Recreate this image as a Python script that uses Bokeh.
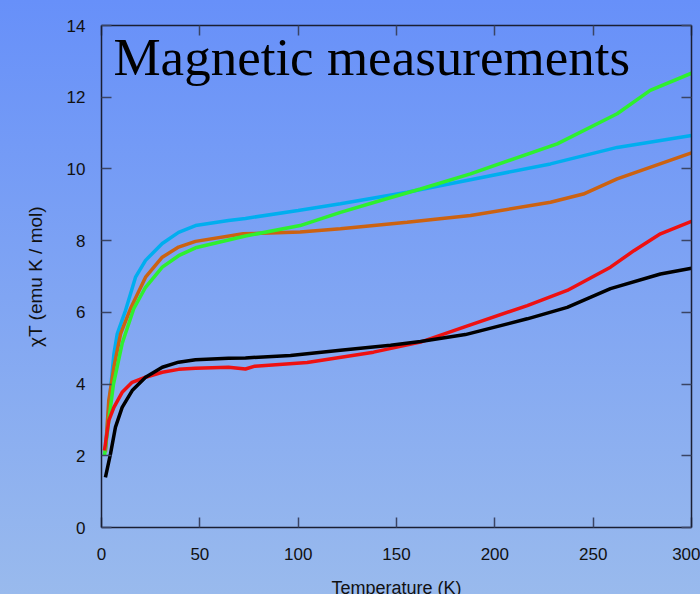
from bokeh.plotting import figure
from bokeh.layouts import column
from bokeh.models import Range1d, LinearAxis, FixedTicker, Label, CustomJSTickFormatter
from bokeh.embed import file_html
from bokeh.resources import INLINE

# ---- data ----
cyan_T = [2, 4, 6.3, 8, 12.2, 17.3, 22.4, 30.9, 39.2, 47.8, 64.6, 73.2, 100, 121.5, 155.4, 187.6, 228.3, 262.2, 300]
cyan_v = [2.2, 3.5, 4.84, 5.4, 6.05, 6.98, 7.45, 7.92, 8.23, 8.42, 8.56, 8.62, 8.84, 9.03, 9.35, 9.70, 10.14, 10.6, 10.93]

green_T = [1.5, 3.7, 6.1, 10.5, 16.4, 22.4, 30.9, 39.2, 47.8, 73.2, 101, 121.5, 141.9, 162.2, 187.6, 231.7, 262.2, 279, 300]
green_v = [2.0, 2.98, 4.0, 5.13, 6.1, 6.7, 7.26, 7.58, 7.8, 8.13, 8.42, 8.79, 9.12, 9.44, 9.86, 10.7, 11.54, 12.19, 12.67]

orange_T = [2, 3.7, 6.3, 9.7, 14.7, 22.4, 30.9, 39.2, 47.8, 72, 101, 121.5, 155.4, 187.6, 228.3, 245, 262.2, 300]
orange_v = [2.1, 3.54, 4.47, 5.4, 6.1, 6.98, 7.54, 7.82, 7.98, 8.19, 8.24, 8.33, 8.51, 8.70, 9.07, 9.3, 9.72, 10.45]

red_T = [1.5, 3.7, 6.3, 10.5, 15.6, 22.4, 30.9, 39.2, 47.8, 64.6, 73.2, 78, 104.6, 138.3, 162.2, 185, 216.5, 236.8, 258.8, 270.7, 284.2, 300]
red_v = [2.15, 2.98, 3.35, 3.77, 4.05, 4.19, 4.33, 4.41, 4.44, 4.47, 4.42, 4.5, 4.6, 4.89, 5.17, 5.6, 6.19, 6.61, 7.26, 7.72, 8.19, 8.54]

black_T = [2, 4.6, 7.1, 10.5, 15.6, 22.4, 30.9, 39.2, 47.8, 64.6, 73.2, 96.1, 121.5, 147, 162.2, 185, 216.5, 236.8, 258.8, 284.2, 300]
black_v = [1.40, 2.06, 2.8, 3.35, 3.82, 4.19, 4.47, 4.61, 4.68, 4.72, 4.73, 4.80, 4.94, 5.08, 5.19, 5.38, 5.82, 6.14, 6.66, 7.07, 7.23]

x_ticks = [0, 50, 100, 150, 200, 250, 300]
y_ticks = [0, 2, 4, 6, 8, 10, 12, 14]

title_text = "Magnetic measurements"
x_label = "Temperature (K)"
y_label = "\u03c7T (emu K / mol)"

FONT = "Liberation Sans"
AX = "#1a1f33"

p = figure(width=700, height=607, output_backend="svg", toolbar_location=None,
           x_range=Range1d(0, 300), y_range=Range1d(0, 14),
           min_border_left=101, min_border_right=9, min_border_top=25, min_border_bottom=80,
           x_axis_location=None, y_axis_location=None)
p.background_fill_alpha = 0
p.border_fill_alpha = 0
p.outline_line_color = None
p.grid.visible = False


def style_axis(ax, labels=True):
    ax.axis_line_color = AX
    ax.axis_line_width = 1.5
    ax.major_tick_line_color = "#3a4464"
    ax.major_tick_line_width = 1.5
    ax.major_tick_in = 10
    ax.major_tick_out = 0
    ax.minor_tick_in = 0
    ax.minor_tick_out = 0
    if labels:
        ax.major_label_text_font = FONT
        ax.major_label_text_font_size = "17px"
        ax.major_label_text_color = "#111111"
        ax.axis_label_text_font = FONT
        ax.axis_label_text_font_size = "19px"
        ax.axis_label_text_font_style = "normal"
        ax.axis_label_text_color = "#111111"
    else:
        ax.formatter = CustomJSTickFormatter(code="return '';")
        ax.major_label_text_font_size = "8px"
        ax.major_label_standoff = 0


xb = LinearAxis(ticker=FixedTicker(ticks=x_ticks), axis_label=x_label)
style_axis(xb)
xb.major_label_standoff = 20
xb.axis_label_standoff = 15
xb.axis_label_text_font_size = "18px"
p.add_layout(xb, "below")

yl = LinearAxis(ticker=FixedTicker(ticks=y_ticks), axis_label=y_label)
style_axis(yl)
yl.major_label_standoff = 16
yl.axis_label_standoff = 18
p.add_layout(yl, "left")

xt = LinearAxis(ticker=FixedTicker(ticks=x_ticks))
style_axis(xt, labels=False)
p.add_layout(xt, "above")

yr = LinearAxis(ticker=FixedTicker(ticks=y_ticks))
style_axis(yr, labels=False)
p.add_layout(yr, "right")

LW = 3.5
p.line(cyan_T, cyan_v, line_color="#00aeef", line_width=LW)
p.line(orange_T, orange_v, line_color="#cc6211", line_width=LW)
p.line(green_T, green_v, line_color="#2ef02e", line_width=LW)
p.line(red_T, red_v, line_color="#ee1111", line_width=LW)
p.line(black_T, black_v, line_color="#000000", line_width=LW)

p.add_layout(Label(x=6.1, y=13.13, text=title_text, text_font="Liberation Serif",
                   text_font_size="53px", text_color="#000000", text_baseline="alphabetic"))

# the page is 594 px tall; the x-axis title runs past its lower edge, as in the reference
page = column(p, styles={"max-height": "594px", "overflow": "hidden",
                         "background": "linear-gradient(to bottom, #6790f9 0%, #99baed 100%)"})

open("out.html", "w").write(file_html(page, INLINE))
